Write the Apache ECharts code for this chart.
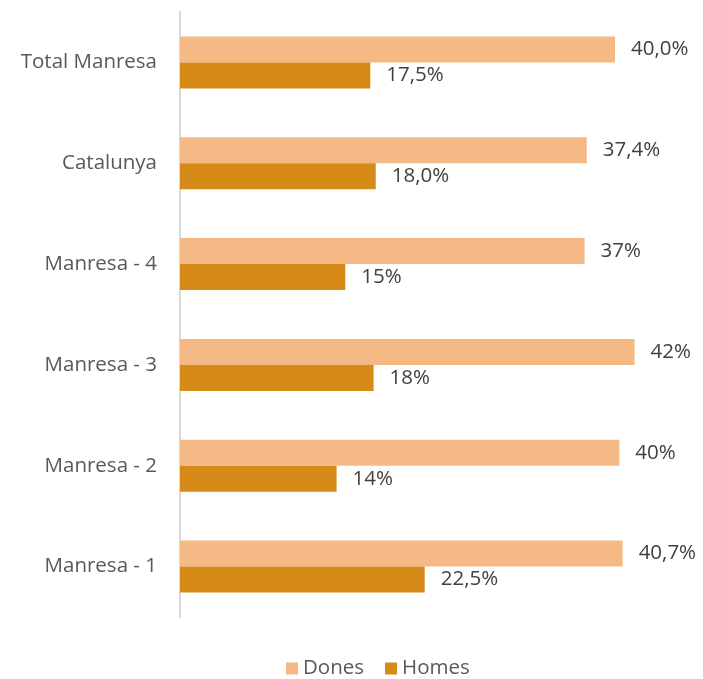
<!DOCTYPE html>
<html>
<head>
<meta charset="utf-8">
<script src="https://cdn.jsdelivr.net/npm/echarts@6/dist/echarts.min.js"></script>
<style>
    html, body { margin: 0; padding: 0; background: #fff; }
    #chart { width: 703px; height: 679px; }
</style>
</head>
<body>
<div id="chart"></div>
<script>
    // categories, top to bottom
    const categories = ['Total Manresa', 'Catalunya', 'Manresa - 4', 'Manresa - 3', 'Manresa - 2', 'Manresa - 1'];
    // values
    const dones = [40.0, 37.4, 37.2, 41.8, 40.4, 40.7];
    const homes = [17.5, 18.0, 15.2, 17.8, 14.4, 22.5];
    // labels as printed in the chart
    const donesLabels = ['40,0%', '37,4%', '37%', '42%', '40%', '40,7%'];
    const homesLabels = ['17,5%', '18,0%', '15%', '18%', '14%', '22,5%'];

    let myChart = echarts.init(document.getElementById('chart'));
    const font = '"Open Sans", "Noto Sans", sans-serif';
    let option = {
        backgroundColor: '#fff',
        animation: false,
        textStyle: { fontFamily: font },
        legend: {
            left: 286,
            top: 658,
            padding: 0,
            itemWidth: 12,
            itemHeight: 12,
            itemGap: 21,
            icon: 'rect',
            textStyle: { fontSize: 20.5, color: '#595959', fontFamily: font },
            data: ['Dones', 'Homes']
        },
        grid: {
            left: 180,
            right: 33.6,
            top: 12,
            bottom: 62,
            containLabel: false
        },
        xAxis: {
            type: 'value',
            min: 0,
            max: 45,
            show: false
        },
        yAxis: {
            type: 'category',
            inverse: true,
            data: categories,
            axisLine: { show: true, lineStyle: { color: '#d9d9d9', width: 2 } },
            axisTick: { show: false },
            axisLabel: {
                fontSize: 20.5,
                color: '#595959',
                margin: 23,
                fontFamily: font
            }
        },
        series: [{
            name: 'Dones',
            type: 'bar',
            barWidth: 26,
            barGap: '0%',
            itemStyle: { color: '#F4B984' },
            label: {
                show: true,
                position: 'right',
                distance: 16,
                fontSize: 20.5,
                color: '#404040',
                fontFamily: font,
                formatter: p => donesLabels[p.dataIndex]
            },
            data: dones
        }, {
            name: 'Homes',
            type: 'bar',
            barWidth: 26,
            barGap: '0%',
            itemStyle: { color: '#D68A18' },
            label: {
                show: true,
                position: 'right',
                distance: 16,
                fontSize: 20.5,
                color: '#404040',
                fontFamily: font,
                formatter: p => homesLabels[p.dataIndex]
            },
            data: homes
        }]
    };
    myChart.setOption(option);
</script>
</body>
</html>
